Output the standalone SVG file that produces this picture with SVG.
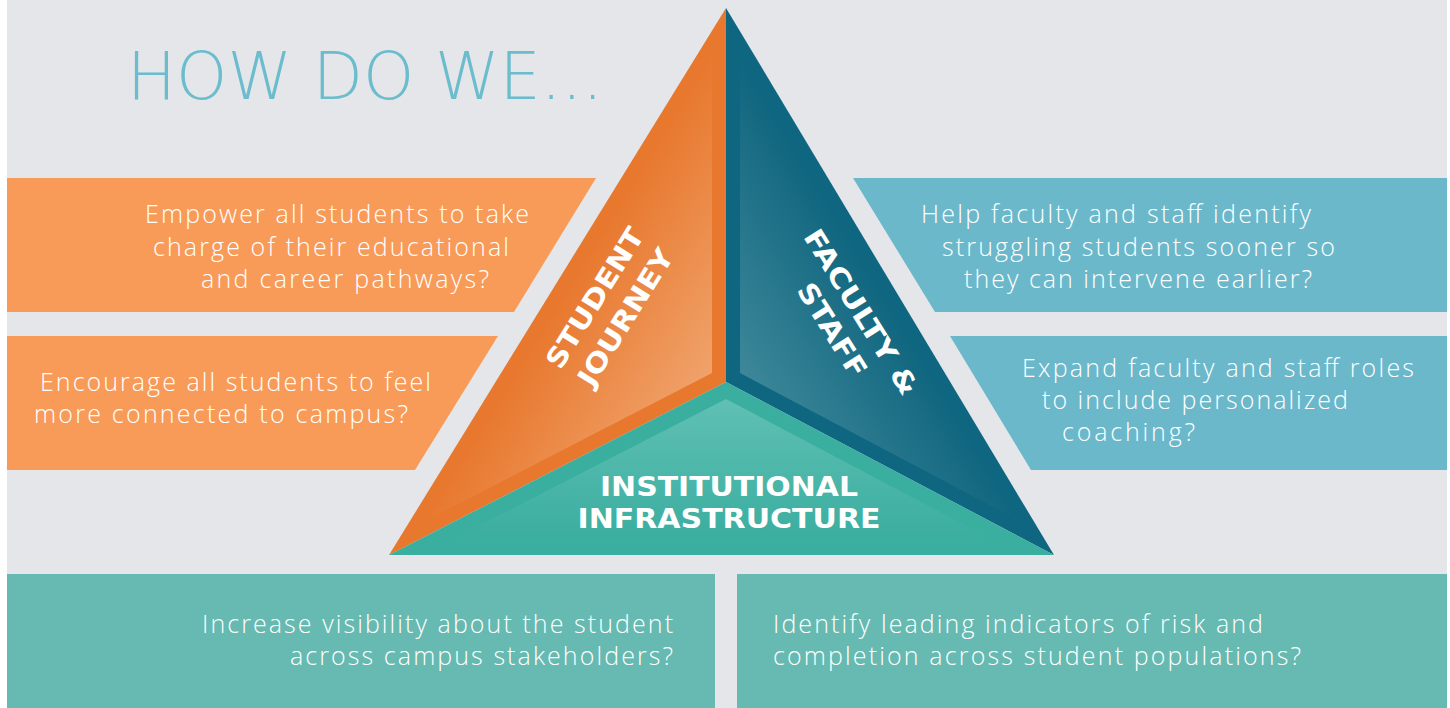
<svg xmlns="http://www.w3.org/2000/svg" width="1450" height="708" viewBox="0 0 1450 708">
<defs>
<style>
.body{font-family:"Open Sans","Liberation Sans",sans-serif;font-weight:300;font-size:25px;fill:#ffffff;}
.lbl{font-family:"DejaVu Sans","Liberation Sans",sans-serif;font-weight:700;font-size:27px;fill:#ffffff;text-anchor:middle;}
.end{text-anchor:end;}
.orange{fill:#f89b58;}
.blue{fill:#6bb8cb;}
.teal{fill:#66bab1;}
</style>
<linearGradient id="gOr" gradientUnits="userSpaceOnUse" x1="571" y1="286" x2="712" y2="373">
<stop offset="0" stop-color="#e8792f"/>
<stop offset="1" stop-color="#f0a26b"/>
</linearGradient>
<linearGradient id="gBl" gradientUnits="userSpaceOnUse" x1="880" y1="288" x2="740" y2="373">
<stop offset="0" stop-color="#10667f"/>
<stop offset="1" stop-color="#3d8799"/>
</linearGradient>
<linearGradient id="gTe" gradientUnits="userSpaceOnUse" x1="726" y1="399" x2="726" y2="540">
<stop offset="0" stop-color="#60c0b4"/>
<stop offset="1" stop-color="#3aaea0"/>
</linearGradient>
</defs>
<rect x="0" y="0" width="1450" height="708" fill="#e4e6e9"/>
<rect x="0" y="0" width="7" height="708" fill="#ffffff"/>
<rect x="1447" y="0" width="3" height="708" fill="#ffffff"/>

<g id="title">
<text x="127" y="99" textLength="476" lengthAdjust="spacingAndGlyphs" style="font-family:'DejaVu Sans','Liberation Sans',sans-serif;font-weight:200;font-size:65px;fill:#6bbccd;">HOW DO WE...</text>
</g>

<g id="banner-empower">
<polygon class="orange" points="7,178 596,178 514,312 7,312"/>
<text class="body end" x="529" y="223" textLength="384">Empower all students to take</text>
<text class="body end" x="509" y="256" textLength="356">charge of their educational</text>
<text class="body end" x="489" y="288" textLength="288">and career pathways?</text>
</g>

<g id="banner-encourage">
<polygon class="orange" points="7,336 498,336 415,470 7,470"/>
<text class="body end" x="431" y="391" textLength="391">Encourage all students to feel</text>
<text class="body end" x="408" y="423" textLength="374">more connected to campus?</text>
</g>

<g id="banner-help">
<polygon class="blue" points="853,178 1447,178 1447,312 935,312"/>
<text class="body" x="921" y="223" textLength="390">Help faculty and staff identify</text>
<text class="body" x="942" y="256" textLength="393">struggling students sooner so</text>
<text class="body" x="964" y="288" textLength="348">they can intervene earlier?</text>
</g>

<g id="banner-expand">
<polygon class="blue" points="950,336 1447,336 1447,470 1031,470"/>
<text class="body" x="1022" y="377" textLength="392">Expand faculty and staff roles</text>
<text class="body" x="1042" y="409" textLength="306">to include personalized</text>
<text class="body" x="1062" y="441" textLength="133">coaching?</text>
</g>

<g id="banner-visibility">
<rect class="teal" x="7" y="574" width="708" height="134"/>
<text class="body end" x="673" y="633" textLength="471">Increase visibility about the student</text>
<text class="body end" x="673" y="665" textLength="383">across campus stakeholders?</text>
</g>

<g id="banner-indicators">
<rect class="teal" x="737" y="574" width="710" height="134"/>
<text class="body" x="773" y="633" textLength="490">Identify leading indicators of risk and</text>
<text class="body" x="773" y="665" textLength="528">completion across student populations?</text>
</g>

<g id="face-student-journey">
<polygon points="726,8 726,382 389,555" fill="#e8782e"/>
<polygon points="712,57 712,373 427,520" fill="url(#gOr)"/>
<g transform="translate(603,303) rotate(-58)">
<text class="lbl" x="0" y="0" textLength="160" lengthAdjust="spacingAndGlyphs">STUDENT</text>
<text class="lbl" x="0" y="36" textLength="156" lengthAdjust="spacingAndGlyphs">JOURNEY</text>
</g>
</g>

<g id="face-faculty-staff">
<polygon points="726,8 1054,555 726,382" fill="#0f6680"/>
<polygon points="740,59 1016,519 740,373" fill="url(#gBl)"/>
<g transform="translate(853,317) rotate(58)">
<text class="lbl" x="0" y="0" textLength="190" lengthAdjust="spacingAndGlyphs">FACULTY &amp;</text>
<text class="lbl" x="0" y="34" textLength="106" lengthAdjust="spacingAndGlyphs">STAFF</text>
</g>
</g>

<g id="face-institutional-infrastructure">
<polygon points="389,555 726,382 1054,555" fill="#3aae9f"/>
<polygon points="451,540 726,399 993,540" fill="url(#gTe)"/>
<text class="lbl" x="729" y="496" textLength="258" lengthAdjust="spacingAndGlyphs">INSTITUTIONAL</text>
<text class="lbl" x="729" y="528" textLength="303" lengthAdjust="spacingAndGlyphs">INFRASTRUCTURE</text>
</g>
</svg>
